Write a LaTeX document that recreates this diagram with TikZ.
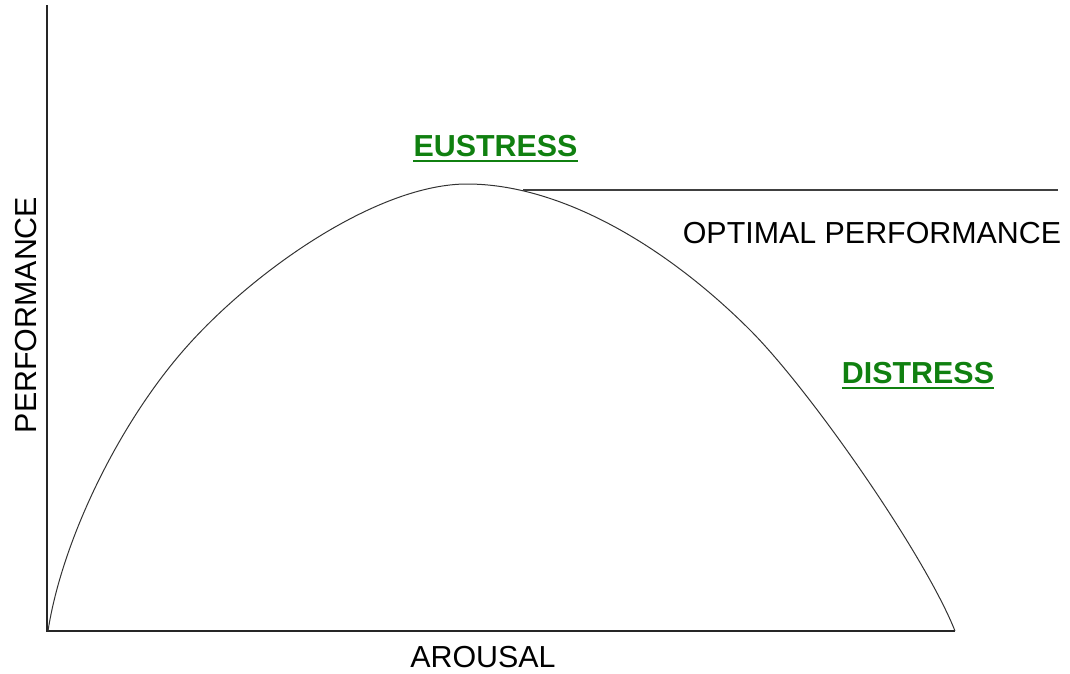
\documentclass[tikz,border=0pt]{standalone}
\usepackage{fontspec}
\setmainfont{Liberation Sans}
\usepackage{xcolor}
\definecolor{stressgreen}{RGB}{16,128,16}

\begin{document}
\begin{tikzpicture}[x=1pt,y=-1pt,
  lbl/.style={inner sep=0pt,anchor=base,font=\fontsize{30.4}{36}\selectfont},
  stresslbl/.style={lbl,text=stressgreen,font=\fontsize{30.4}{36}\selectfont\bfseries}]
\useasboundingbox (0,0) rectangle (1070,673);
% axes
\coordinate (top) at (47,5);
\coordinate (orig) at (47,631);
\coordinate (xend) at (955,631);
\draw[line width=1.8pt,black!85] (top) -- (orig) -- (xend);

% arousal / performance curve
\coordinate (peak) at (467,184);
\draw[line width=1pt,black!80] (48,631)
  .. controls (62,540) and (120,420) .. (190,343)
  .. controls (260,266) and (380,184) .. (peak)
  .. controls (560,184) and (665,245) .. (750,330)
  .. controls (810,390) and (925,555) .. (xend);

% optimal level
\coordinate (opt) at (523,190);
\coordinate (optend) at (1058,190);
\draw[line width=1.1pt,black!75] (opt) -- (optend);

% labels
\node[lbl] (optlbl) at (872,243) {OPTIMAL PERFORMANCE};
\node[lbl] (xlbl) at (483,667) {AROUSAL};
\node[lbl,rotate=90] (ylbl) at (36,315) {PERFORMANCE};

\node[stresslbl] (eus) at (495.5,156) {EUSTRESS};
\draw[stressgreen,line width=2pt] ([yshift=-5pt]eus.base west) -- ([yshift=-5pt]eus.base east);
\node[stresslbl] (dis) at (918,383) {DISTRESS};
\draw[stressgreen,line width=2pt] ([yshift=-5pt]dis.base west) -- ([yshift=-5pt]dis.base east);
\end{tikzpicture}
\end{document}
